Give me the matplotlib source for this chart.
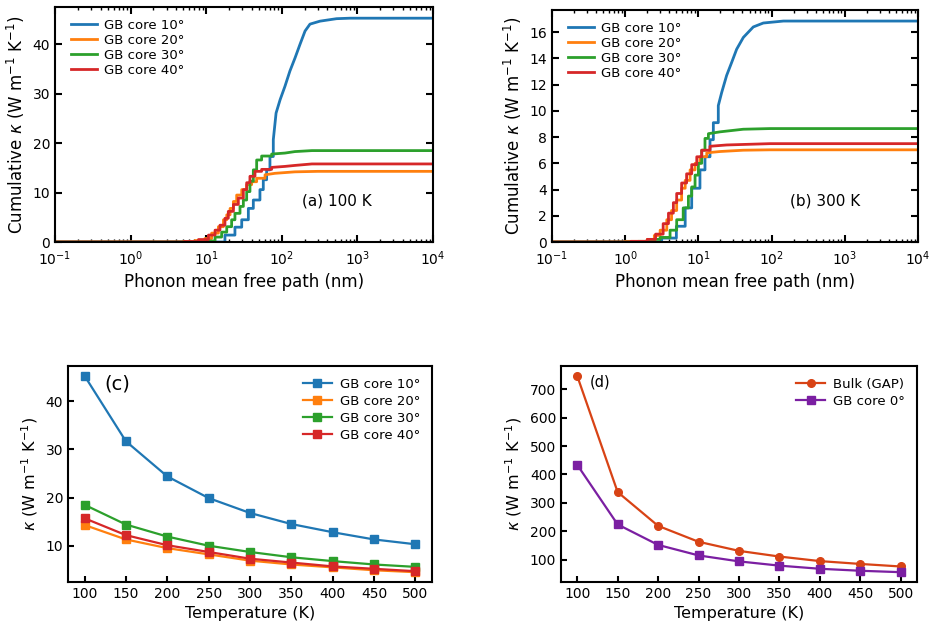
import numpy as np
import matplotlib
matplotlib.use('Agg')
from matplotlib import pyplot as plt
from matplotlib.ticker import MultipleLocator, LogLocator

# 凡例とカラー
labels = ['GB core 10°', 'GB core 20°', 'GB core 30°', 'GB core 40°']
colors = ['#1f77b4', '#ff7f0e', '#2ca02c', '#d62728']

# (a) 100 K の累積熱伝導率 (平均自由行程 nm, W/mK)
mfp_100_10 = [0.1, 17.7, 24.0, 29.5, 36.1, 42.0, 51.4, 56.9, 63.0, 69.7, 77.2, 84, 95, 110, 128,
              150, 174, 203, 236, 320, 530, 800, 1e4]
kap_100_10 = [0, 1.4, 3.0, 4.5, 6.8, 8.5, 10.6, 12.6, 14.6, 17.3, 20.7, 26.1, 28.8, 31.5, 34.6,
              37.3, 40.0, 42.7, 44.1, 44.7, 45.2, 45.3, 45.3]
mfp_100_20 = [0.1, 5.0, 7.1, 9.6, 11.8, 14.5, 16.9, 18.7, 20.7, 22.9, 25.3, 29.5, 34.3, 39.9,
              46.5, 60, 81, 149, 300, 1e4]
kap_100_20 = [0, 0.1, 0.3, 0.7, 1.8, 3.1, 4.5, 5.5, 6.8, 8.2, 9.5, 10.6, 11.6, 12.2,
              12.9, 13.6, 13.9, 14.2, 14.3, 14.3]
mfp_100_30 = [0.1, 10.7, 13.1, 16.0, 18.7, 21.7, 24.0, 28.0, 31.0, 34.3, 37.9, 42.0, 46.5,
              54.1, 73.4, 110, 149, 250, 1e4]
kap_100_30 = [0, 0.2, 1.0, 2.0, 3.1, 4.5, 5.8, 7.2, 8.5, 10.2, 12.3, 14.6, 16.6,
              17.4, 17.8, 18.0, 18.3, 18.5, 18.5]
mfp_100_40 = [0.1, 5.2, 7.9, 10.7, 13.1, 15.2, 17.7, 19.6, 22.9, 26.6, 31.0, 34.3, 37.9,
              44.2, 54.1, 73.4, 110, 149, 250, 1e4]
kap_100_40 = [0, 0.1, 0.5, 1.4, 2.4, 3.4, 4.8, 6.2, 7.6, 8.9, 10.6, 12.0, 13.3,
              14.3, 14.7, 15.1, 15.3, 15.5, 15.8, 15.8]

# (b) 300 K の累積熱伝導率
mfp_300_10 = [0.1, 3.15, 5.0, 6.6, 8.1, 10.5, 12.3, 14.4, 16.0, 18.7, 20.8, 24.3, 28.5, 33.3,
              41.1, 56.2, 77, 145, 1e4]
kap_300_10 = [0, 0.3, 1.2, 2.6, 4.1, 5.5, 6.5, 7.8, 9.1, 10.4, 11.4, 12.7, 13.7, 14.7,
              15.6, 16.4, 16.7, 16.85, 16.85]
mfp_300_20 = [0.1, 1.0, 2.0, 2.5, 3.0, 3.7, 4.3, 5.05, 5.9, 6.6, 7.7, 9.0, 10.5, 13.0,
              19.7, 41, 95, 1e4]
kap_300_20 = [0, 0.05, 0.2, 0.5, 0.9, 1.7, 2.4, 3.2, 4.1, 4.7, 5.5, 6.0, 6.5, 6.8,
              6.9, 7.0, 7.03, 7.03]
mfp_300_30 = [0.1, 1.5, 2.5, 3.0, 4.1, 5.05, 6.2, 7.3, 8.1, 9.0, 10.0, 11.1, 12.3, 13.7,
              19.7, 41, 95, 1e4]
kap_300_30 = [0, 0.05, 0.2, 0.35, 0.9, 1.7, 2.6, 3.5, 4.2, 5.1, 6.0, 7.0, 7.9, 8.26,
              8.4, 8.6, 8.65, 8.65]
mfp_300_40 = [0.1, 1.2, 2.0, 2.6, 3.3, 3.9, 4.55, 5.05, 5.9, 6.9, 8.1, 9.5, 11.1, 14.4,
              24.3, 95, 1e4]
kap_300_40 = [0, 0.05, 0.2, 0.6, 1.4, 2.2, 3.0, 3.7, 4.5, 5.2, 5.9, 6.5, 7.0, 7.3,
              7.4, 7.5, 7.5]

# (c), (d) 温度依存性
temps = [100, 150, 200, 250, 300, 350, 400, 450, 500]
kappa_10 = [45.3, 31.7, 24.4, 19.9, 16.8, 14.5, 12.8, 11.3, 10.3]
kappa_20 = [14.3, 11.3, 9.5, 8.2, 6.9, 6.1, 5.5, 4.9, 4.5]
kappa_30 = [18.5, 14.4, 11.9, 10.0, 8.7, 7.6, 6.8, 6.1, 5.6]
kappa_40 = [15.7, 12.2, 10.1, 8.7, 7.3, 6.5, 5.7, 5.2, 4.7]
kappa_bulk = [747, 338, 219, 163, 131, 111, 95, 85, 76]
kappa_gb0 = [434, 224, 152, 115, 94, 79, 68, 61, 56]

plt.rcParams['font.family'] = 'DejaVu Sans'
plt.rcParams['axes.linewidth'] = 1.5

fig = plt.figure(figsize=(9.34, 6.31), dpi=100)
W, H = 934.0, 631.0


def AddAxes(left, top, right, bottom):
    # ピクセル座標から軸を作成
    return fig.add_axes([left / W, 1 - bottom / H, (right - left) / W, (bottom - top) / H])


def StairPath(mfp, kap, x_smooth):
    # x_smooth より短い行程は階段状、それ以降は直線でつなぐ
    xs, ys = [mfp[0]], [kap[0]]
    for i in range(1, len(mfp)):
        if mfp[i] <= x_smooth:
            xs.append(mfp[i])
            ys.append(kap[i - 1])
        xs.append(mfp[i])
        ys.append(kap[i])
    return xs, ys


def MakeCumulative(ax, curves, ystep, text, x_smooth):
    for (mfp, kap), label, color in zip(curves, labels, colors):
        xs, ys = StairPath(mfp, kap, x_smooth)
        ax.plot(xs, ys, color=color, lw=2, label=label)
    ax.set_xscale('log')
    ax.set_xlim(1e-1, 1e4)
    ax.set_ylim(bottom=0)
    ax.yaxis.set_major_locator(MultipleLocator(ystep))
    ax.xaxis.set_major_locator(LogLocator(base=10, numticks=10))
    ax.xaxis.set_minor_locator(LogLocator(base=10, subs=np.arange(2, 10), numticks=20))
    ax.tick_params(which='both', direction='in', top=True, right=True, labelsize=10)
    ax.tick_params(which='major', length=5, width=1.5)
    ax.tick_params(which='minor', length=2.5, width=1)
    ax.tick_params(axis='x', which='major', pad=5)
    ax.set_xlabel('Phonon mean free path (nm)', fontsize=12)
    ax.set_ylabel(r'Cumulative $\kappa$ (W m$^{-1}$ K$^{-1}$)', fontsize=12)
    ax.legend(loc='upper left', bbox_to_anchor=(0.01, 1.0), frameon=False, fontsize=9.5,
              labelspacing=0.15, handletextpad=0.5, handlelength=2.0)
    ax.text(0.745, 0.175, text, transform=ax.transAxes, ha='center', va='center', fontsize=11)


def SetupTempAxes(ax):
    ax.tick_params(direction='in', length=4.5, width=1.5, labelsize=10)
    ax.set_xticks(temps)
    ax.set_xlabel('Temperature (K)', fontsize=11.5)
    ax.set_ylabel(r'$\kappa$ (W m$^{-1}$ K$^{-1}$)', fontsize=11.5)


# (a) 100 K
ax_a = AddAxes(55, 7, 433, 242)
MakeCumulative(ax_a, [(mfp_100_10, kap_100_10), (mfp_100_20, kap_100_20),
                      (mfp_100_30, kap_100_30), (mfp_100_40, kap_100_40)], 10, '(a) 100 K', 80)

# (b) 300 K
ax_b = AddAxes(552, 10, 918, 242)
MakeCumulative(ax_b, [(mfp_300_10, kap_300_10), (mfp_300_20, kap_300_20),
                      (mfp_300_30, kap_300_30), (mfp_300_40, kap_300_40)], 2, '(b) 300 K', 19)

# (c) GB core の温度依存性
ax_c = AddAxes(68, 366, 432, 582)
for kap, label, color in zip([kappa_10, kappa_20, kappa_30, kappa_40], labels, colors):
    ax_c.plot(temps, kap, marker='s', ms=5.5, lw=1.6, color=color, label=label)
SetupTempAxes(ax_c)
ax_c.yaxis.set_major_locator(MultipleLocator(10))
ax_c.legend(loc='upper right', frameon=False, fontsize=9.5, labelspacing=0.3,
            handletextpad=0.6, handlelength=2.2)
ax_c.text(0.135, 0.915, '(c)', transform=ax_c.transAxes, ha='center', va='center', fontsize=14)

# (d) バルクとの比較
ax_d = AddAxes(561, 366, 917, 582)
ax_d.plot(temps, kappa_bulk, marker='o', ms=5.5, lw=1.6, color='#d84315', label='Bulk (GAP)')
ax_d.plot(temps, kappa_gb0, marker='s', ms=5.5, lw=1.6, color='#7b1fa2', label='GB core 0°')
SetupTempAxes(ax_d)
ax_d.yaxis.set_major_locator(MultipleLocator(100))
ax_d.legend(loc='upper right', frameon=False, fontsize=9.5, labelspacing=0.3,
            handletextpad=0.6, handlelength=2.2)
ax_d.text(0.11, 0.925, '(d)', transform=ax_d.transAxes, ha='center', va='center', fontsize=10.5)

fig.savefig('out.png', dpi=100)
